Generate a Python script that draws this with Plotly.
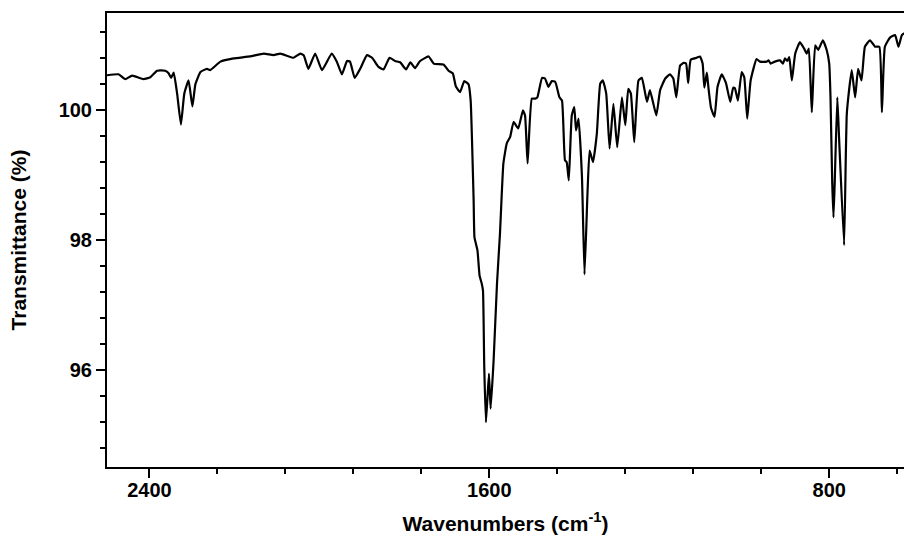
import plotly.graph_objects as go

# IR transmission spectrum (wavenumber in cm^-1, transmittance in %)
wavenumber = [
    2500, 2473, 2457, 2441, 2414, 2398, 2382, 2363, 2355, 2349, 2343, 2335, 2326, 2318,
    2308, 2299, 2292, 2280, 2265, 2257, 2233, 2202, 2163, 2131, 2108, 2092, 2061, 2045,
    2037, 2026, 2010, 1994, 1971, 1959, 1947, 1935, 1928, 1917, 1904, 1888, 1876, 1861,
    1849, 1835, 1822, 1810, 1796, 1786, 1775, 1763, 1743, 1731, 1708, 1696, 1686, 1679,
    1669, 1659, 1649, 1644, 1637, 1635, 1628, 1623, 1618, 1615, 1612, 1608, 1601, 1597,
    1590, 1582, 1575, 1567, 1559, 1551, 1543, 1532, 1521, 1516, 1510, 1500, 1492, 1487,
    1476, 1469, 1461, 1453, 1445, 1435, 1429, 1422, 1418, 1413, 1406, 1400, 1396, 1390,
    1382, 1376, 1369, 1364, 1356, 1347, 1339, 1333, 1325, 1317, 1308, 1299, 1288, 1280,
    1273, 1267, 1259, 1249, 1241, 1229, 1222, 1207, 1198, 1186, 1175, 1167, 1160, 1151,
    1143, 1137, 1132, 1126, 1112, 1104, 1098, 1094, 1088, 1084, 1078, 1070, 1063, 1053,
    1043, 1033, 1026, 1022, 1015, 1006, 1000, 993, 985, 971, 963, 947, 943, 938,
    928, 916, 909, 904, 899, 894, 888, 880, 869, 859, 853, 848, 841, 833,
    826, 815, 806, 800, 797, 793, 790, 787, 781, 777, 765, 761, 759, 757,
    747, 739, 732, 724, 716, 704, 692, 682, 676, 669, 657, 645, 637, 629,
    620,
]

transmittance = [
    100.54, 100.555, 100.48, 100.535, 100.48, 100.51, 100.61, 100.61, 100.57, 100.50, 100.58, 100.26, 99.78, 100.26,
    100.46, 100.06, 100.40, 100.59, 100.64, 100.62, 100.75, 100.80, 100.83, 100.875, 100.85, 100.875, 100.81, 100.875,
    100.85, 100.64, 100.875, 100.62, 100.875, 100.75, 100.555, 100.76, 100.75, 100.50, 100.64, 100.85, 100.81, 100.67,
    100.63, 100.81, 100.76, 100.74, 100.63, 100.74, 100.65, 100.76, 100.83, 100.72, 100.705, 100.61, 100.57, 100.37,
    100.28, 100.45, 100.40, 100.15, 98.61, 98.04, 97.84, 97.45, 97.33, 97.22, 96.04, 95.19, 95.94, 95.40,
    96.14, 97.33, 98.10, 99.18, 99.49, 99.59, 99.82, 99.72, 100.00, 99.92, 99.18, 100.18, 100.18, 100.20,
    100.50, 100.49, 100.36, 100.45, 100.44, 100.20, 100.15, 99.23, 99.20, 98.92, 99.92, 100.05, 99.69, 99.87,
    98.97, 97.47, 98.72, 99.38, 99.20, 99.64, 100.41, 100.46, 100.26, 99.41, 100.10, 99.43, 100.20, 99.77,
    100.33, 100.26, 99.51, 100.46, 100.50, 100.13, 100.31, 99.92, 100.31, 100.49, 100.555, 100.49, 100.20, 100.69,
    100.73, 100.72, 100.42, 100.78, 100.81, 100.83, 100.72, 100.35, 100.58, 100.33, 100.03, 99.90, 100.36, 100.555,
    100.42, 100.13, 100.35, 100.34, 100.15, 100.59, 100.51, 99.87, 100.46, 100.79, 100.75, 100.75, 100.77, 100.72,
    100.75, 100.77, 100.72, 100.80, 100.76, 100.82, 100.46, 100.875, 101.05, 100.95, 100.875, 100.95, 99.97, 101.00,
    100.93, 101.08, 100.93, 100.72, 100.20, 98.90, 98.35, 98.90, 100.20, 99.60, 97.92, 99.30, 99.90, 100.08,
    100.62, 100.20, 100.64, 100.46, 100.98, 101.08, 100.98, 100.98, 99.97, 100.98, 101.12, 101.16, 100.98, 101.16,
    101.20,
]

FONT = "Liberation Sans, Arial, sans-serif"

fig = go.Figure(
    go.Scatter(
        x=wavenumber,
        y=transmittance,
        mode="lines",
        line=dict(color="black", width=2.2, shape="spline", smoothing=0.4),
        hoverinfo="skip",
    )
)

axis_common = dict(
    showline=True,
    linewidth=2,
    linecolor="black",
    showgrid=False,
    zeroline=False,
    ticks="outside",
    tickwidth=2,
    tickcolor="black",
    tickfont=dict(family=FONT, size=20, color="black", weight="bold"),
)

fig.update_xaxes(
    **axis_common,
    range=[2500, 624],
    tickmode="linear",
    tick0=0,
    dtick=800,
    ticklen=9,
    ticklabelstandoff=-5,
    mirror=True,
    minor=dict(ticks="outside", ticklen=5, tickwidth=2, tickcolor="black",
               tick0=0, dtick=160, showgrid=False),
    title=dict(text="Wavenumbers (cm<sup>-1</sup>)",
               font=dict(family=FONT, size=21, color="black", weight="bold"),
               standoff=16),
)

fig.update_yaxes(
    **axis_common,
    range=[94.5, 101.5],
    tickmode="linear",
    tick0=0,
    dtick=2,
    ticklen=9,
    minor=dict(ticks="outside", ticklen=5, tickwidth=2, tickcolor="black",
               tick0=0, dtick=0.4, showgrid=False),
    title=dict(text="Transmittance (%)",
               font=dict(family=FONT, size=21, color="black", weight="bold"),
               standoff=26),
)

fig.update_layout(
    width=904,
    height=544,
    margin=dict(l=107, r=0, t=13, b=77),
    plot_bgcolor="white",
    paper_bgcolor="white",
    showlegend=False,
)

fig.write_html("out.html")
